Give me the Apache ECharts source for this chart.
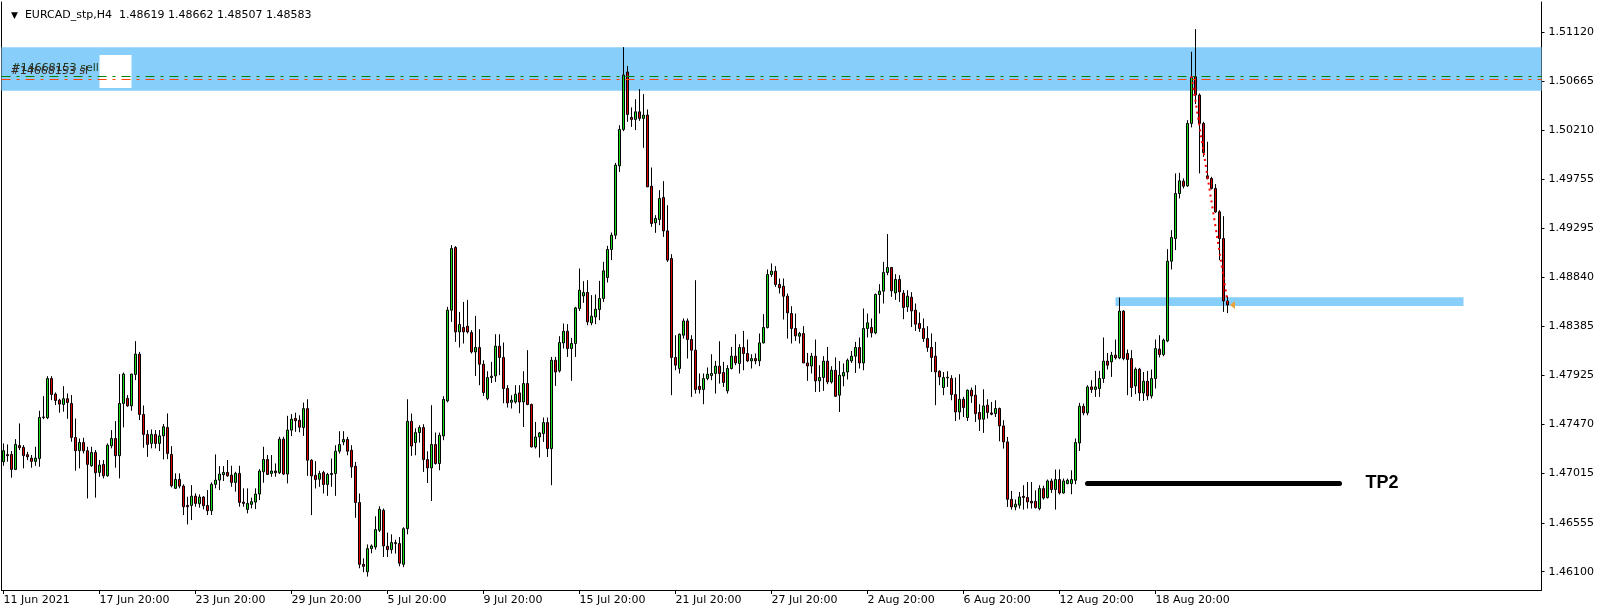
<!DOCTYPE html>
<html><head><meta charset="utf-8">
<script src="https://cdn.jsdelivr.net/npm/echarts@6/dist/echarts.min.js"></script>
<style>html,body{margin:0;padding:0;background:#fff;}#c{width:1604px;height:614px;}</style>
</head><body><div id="c"></div>
<script>
// ---------------- DATA ----------------
const symbolName = 'EURCAD_stp,H4';
const xTickLabels = ['11 Jun 2021','17 Jun 20:00','23 Jun 20:00','29 Jun 20:00','5 Jul 20:00','9 Jul 20:00','15 Jul 20:00','21 Jul 20:00','27 Jul 20:00','2 Aug 20:00','6 Aug 20:00','12 Aug 20:00','18 Aug 20:00'];
const barsPerLabel = 24;
const yTickValues = [1.46100,1.46555,1.47015,1.47470,1.47925,1.48385,1.48840,1.49295,1.49755,1.50210,1.50665,1.51120];

const open = [
1.47124,1.47190,1.47192,1.47052,1.47275,1.47257,1.47189,1.47157,1.47127,1.47154,
1.47536,1.47533,1.47898,1.47753,1.47697,1.47657,1.47710,1.47666,1.47350,1.47226,
1.47303,1.47226,1.47086,1.47210,1.47024,1.47099,1.46993,1.47272,1.47340,1.47180,
1.47666,1.47713,1.47644,1.47936,1.48125,1.47564,1.47378,1.47294,1.47378,1.47294,
1.47365,1.47443,1.47192,1.46876,1.46959,1.46897,1.46717,1.46717,1.46804,1.46733,
1.46795,1.46717,1.46668,1.46913,1.46953,1.47003,1.47024,1.46999,1.46931,1.47015,
1.46748,1.46680,1.46727,1.46748,1.46823,1.47030,1.47145,1.47015,1.47037,1.47021,
1.47334,1.47009,1.47418,1.47526,1.47510,1.47442,1.47618,1.47138,1.46998,1.46961,
1.47023,1.46912,1.47005,1.47014,1.47222,1.47308,1.47330,1.47231,1.47082,1.46744,
1.46169,1.46099,1.46315,1.46330,1.46486,1.46672,1.46337,1.46306,1.46362,1.46362,
1.46169,1.46501,1.47500,1.47302,1.47395,1.47442,1.47144,1.47066,1.47284,1.47107,
1.47364,1.47690,1.48534,1.49118,1.48332,1.48373,1.48385,1.48326,1.48146,1.48187,
1.48031,1.47712,1.47907,1.47922,1.48199,1.48094,1.47805,1.47677,1.47680,1.47764,
1.47680,1.47851,1.47656,1.47261,1.47354,1.47386,1.47488,1.47246,1.48068,1.47969,
1.48229,1.48338,1.48177,1.48224,1.48550,1.48667,1.48699,1.48416,1.48471,1.48540,
1.48643,1.48838,1.49099,1.49232,1.49877,1.50216,1.50750,1.50328,1.50309,1.50380,
1.50319,1.50350,1.49688,1.49347,1.49378,1.49583,1.49272,1.49015,1.48094,1.47991,
1.48301,1.48434,1.48261,1.48162,1.47826,1.47796,1.47898,1.47926,1.47945,1.48013,
1.47954,1.47783,1.47991,1.48106,1.48038,1.48187,1.48131,1.48062,1.48084,1.48062,
1.48230,1.48373,1.48866,1.48897,1.48773,1.48757,1.48664,1.48503,1.48364,1.48292,
1.48317,1.48043,1.48015,1.48106,1.47876,1.47907,1.48060,1.47866,1.47975,1.47743,
1.47922,1.47959,1.48062,1.48106,1.48187,1.48043,1.48364,1.48373,1.48323,1.48680,
1.48711,1.48885,1.48931,1.48695,1.48820,1.48692,1.48565,1.48655,1.48534,1.48410,
1.48364,1.48270,1.48187,1.48106,1.47966,1.47814,1.47904,1.47898,1.47749,1.47587,
1.47705,1.47535,1.47789,1.47743,1.47582,1.47519,1.47650,1.47578,1.47572,1.47619,
1.47457,1.47308,1.46774,1.46703,1.46719,1.46802,1.46791,1.46756,1.46756,1.46688,
1.46874,1.46790,1.46945,1.46865,1.46958,1.46833,1.46920,1.46920,1.46951,1.47298,
1.47640,1.47578,1.47820,1.47796,1.47805,1.47898,1.48060,1.48053,1.48115,1.48090,
1.48525,1.48131,1.48084,1.47829,1.47985,1.47764,1.47873,1.47736,1.47898,1.48171,
1.48121,1.48248,1.48990,1.49201,1.49620,1.49735,1.49691,1.50272,1.50706,1.50536,
1.50272,1.49784,1.49760,1.49667,1.49449,1.49201,1.48619];

const high = [
1.47294,1.47285,1.47223,1.47334,1.47480,1.47278,1.47216,1.47186,1.47263,1.47598,
1.47734,1.47920,1.47920,1.47768,1.47710,1.47827,1.47759,1.47744,1.47526,1.47340,
1.47347,1.47263,1.47263,1.47232,1.47139,1.47139,1.47294,1.47418,1.47502,1.47939,
1.47954,1.47744,1.47942,1.48246,1.48146,1.47647,1.47418,1.47424,1.47418,1.47418,
1.47474,1.47573,1.47269,1.47015,1.47015,1.46913,1.46798,1.46906,1.46829,1.46820,
1.46804,1.46860,1.46931,1.47192,1.47083,1.47083,1.47139,1.47086,1.47030,1.47086,
1.46876,1.46876,1.46789,1.46876,1.47055,1.47263,1.47186,1.47186,1.47108,1.47356,
1.47356,1.47551,1.47567,1.47580,1.47556,1.47674,1.47705,1.47147,1.47129,1.47039,
1.47039,1.47020,1.47154,1.47277,1.47408,1.47408,1.47355,1.47277,1.47122,1.46828,
1.46224,1.46354,1.46354,1.46616,1.46709,1.46688,1.46464,1.46448,1.46399,1.46423,
1.46514,1.47705,1.47572,1.47435,1.47463,1.47473,1.47221,1.47650,1.47395,1.47395,
1.47733,1.48565,1.49139,1.49130,1.48518,1.48611,1.48630,1.48348,1.48481,1.48357,
1.48068,1.47966,1.48053,1.48310,1.48310,1.48233,1.47836,1.47743,1.47836,1.47836,
1.47966,1.48162,1.47665,1.47494,1.47401,1.47535,1.47535,1.48099,1.48099,1.48292,
1.48410,1.48404,1.48276,1.48565,1.48922,1.48804,1.48813,1.48674,1.48680,1.48807,
1.48984,1.49133,1.49257,1.49905,1.50256,1.50982,1.50806,1.50421,1.50498,1.50591,
1.50545,1.50402,1.49862,1.49418,1.49651,1.49735,1.49511,1.49055,1.48301,1.48317,
1.48457,1.48457,1.48301,1.48813,1.47945,1.47945,1.48001,1.48124,1.48062,1.48245,
1.48053,1.48022,1.48192,1.48310,1.48217,1.48341,1.48261,1.48124,1.48131,1.48317,
1.48497,1.48913,1.48969,1.48944,1.48829,1.48829,1.48689,1.48571,1.48503,1.48332,
1.48385,1.48136,1.48136,1.48261,1.48022,1.48106,1.48192,1.48013,1.48094,1.48060,
1.48038,1.48084,1.48155,1.48239,1.48280,1.48550,1.48503,1.48457,1.48689,1.48776,
1.48984,1.49242,1.48937,1.48869,1.48860,1.48720,1.48720,1.48702,1.48596,1.48513,
1.48457,1.48385,1.48317,1.48239,1.47975,1.47959,1.47966,1.47929,1.47907,1.47938,
1.47727,1.47796,1.47814,1.47836,1.47659,1.47798,1.47705,1.47680,1.47696,1.47628,
1.47510,1.47354,1.46852,1.46772,1.46842,1.46905,1.46935,1.46935,1.46858,1.46905,
1.46900,1.46958,1.46967,1.47051,1.47051,1.46967,1.46967,1.47044,1.47340,1.47671,
1.47665,1.47836,1.47882,1.47969,1.47969,1.48280,1.48136,1.48146,1.48261,1.48652,
1.48534,1.48168,1.48162,1.48001,1.47997,1.47959,1.47969,1.47982,1.48261,1.48301,
1.48270,1.49102,1.49279,1.49807,1.49812,1.49760,1.50303,1.50939,1.51150,1.50551,
1.50287,1.50101,1.49775,1.49707,1.49465,1.49409,1.48662];

const low = [
1.47086,1.47124,1.46975,1.47046,1.47232,1.47062,1.47139,1.47068,1.47086,1.47077,
1.47520,1.47520,1.47697,1.47651,1.47580,1.47589,1.47523,1.47310,1.47040,1.47062,
1.47201,1.46782,1.47077,1.46789,1.46984,1.46969,1.46984,1.47248,1.47068,1.46969,
1.47443,1.47635,1.47598,1.47883,1.47511,1.47254,1.47169,1.47248,1.47248,1.47223,
1.47145,1.47148,1.46885,1.46870,1.46876,1.46628,1.46540,1.46581,1.46705,1.46696,
1.46680,1.46628,1.46628,1.46876,1.46860,1.46944,1.46984,1.46891,1.46845,1.46705,
1.46705,1.46643,1.46690,1.46683,1.46767,1.46928,1.47000,1.46984,1.46984,1.47009,
1.47000,1.46922,1.47362,1.47402,1.47398,1.47364,1.46992,1.46627,1.46875,1.46890,
1.46828,1.46806,1.46890,1.46806,1.47200,1.47277,1.47184,1.46974,1.46602,1.46132,
1.46095,1.46055,1.46272,1.46306,1.46470,1.46237,1.46237,1.46269,1.46269,1.46151,
1.46142,1.46448,1.47178,1.47184,1.47302,1.47029,1.46926,1.46758,1.47097,1.47044,
1.47324,1.47677,1.48425,1.48239,1.48187,1.48224,1.48317,1.48131,1.47922,1.47836,
1.47736,1.47696,1.47857,1.47866,1.47929,1.47668,1.47628,1.47619,1.47665,1.47575,
1.47447,1.47650,1.47258,1.47246,1.47163,1.47308,1.47168,1.46905,1.47829,1.47954,
1.48177,1.48099,1.47876,1.48099,1.48527,1.48602,1.48394,1.48394,1.48404,1.48441,
1.48611,1.48792,1.49000,1.49195,1.49821,1.50200,1.50287,1.50240,1.50210,1.50296,
1.50045,1.49679,1.49309,1.49254,1.49325,1.49216,1.48984,1.47743,1.47975,1.47945,
1.48270,1.48084,1.47727,1.47758,1.47758,1.47659,1.47882,1.47882,1.47758,1.47851,
1.47820,1.47758,1.47982,1.48022,1.47945,1.47975,1.48053,1.47991,1.48031,1.48013,
1.48224,1.48364,1.48844,1.48751,1.48689,1.48447,1.48270,1.48224,1.48248,1.48224,
1.48043,1.47876,1.47945,1.47773,1.47773,1.47783,1.47845,1.47851,1.47727,1.47587,
1.47826,1.47889,1.48043,1.47950,1.47991,1.47975,1.48280,1.48280,1.48310,1.48503,
1.48596,1.48860,1.48658,1.48630,1.48611,1.48450,1.48518,1.48378,1.48341,1.48332,
1.48239,1.48146,1.47959,1.47650,1.47836,1.47743,1.47820,1.47696,1.47503,1.47516,
1.47540,1.47503,1.47671,1.47494,1.47410,1.47392,1.47526,1.47556,1.47540,1.47314,
1.47246,1.46703,1.46678,1.46672,1.46688,1.46678,1.46688,1.46688,1.46688,1.46672,
1.46771,1.46781,1.46833,1.46678,1.46818,1.46827,1.46914,1.46821,1.46914,1.47224,
1.47556,1.47556,1.47764,1.47727,1.47727,1.47857,1.47982,1.47913,1.48075,1.48078,
1.48068,1.47743,1.47727,1.47752,1.47690,1.47690,1.47696,1.47712,1.47805,1.48094,
1.48106,1.48236,1.48913,1.49093,1.49574,1.49667,1.49682,1.50235,1.50452,1.49807,
1.49961,1.49751,1.49658,1.49440,1.49000,1.48518,1.48507];

const close = [
1.47226,1.47180,1.47052,1.47285,1.47254,1.47180,1.47169,1.47127,1.47157,1.47536,
1.47540,1.47898,1.47750,1.47694,1.47660,1.47710,1.47675,1.47350,1.47226,1.47303,
1.47226,1.47099,1.47210,1.47021,1.47093,1.46993,1.47278,1.47340,1.47180,1.47666,
1.47939,1.47644,1.47939,1.48125,1.47564,1.47378,1.47285,1.47378,1.47294,1.47365,
1.47449,1.47201,1.46900,1.46959,1.46897,1.46705,1.46705,1.46804,1.46736,1.46795,
1.46714,1.46668,1.46913,1.46953,1.47009,1.47024,1.46993,1.46931,1.47015,1.46745,
1.46736,1.46736,1.46752,1.46823,1.47037,1.47145,1.47006,1.47037,1.47021,1.47334,
1.47009,1.47418,1.47520,1.47505,1.47445,1.47618,1.47138,1.46992,1.46958,1.47014,
1.46912,1.47005,1.47014,1.47222,1.47284,1.47330,1.47222,1.47076,1.46744,1.46169,
1.46150,1.46315,1.46340,1.46492,1.46681,1.46340,1.46306,1.46371,1.46371,1.46179,
1.46501,1.47500,1.47270,1.47395,1.47442,1.47144,1.47066,1.47284,1.47107,1.47370,
1.47703,1.48534,1.49108,1.48332,1.48401,1.48332,1.48332,1.48146,1.48187,1.48031,
1.47768,1.47907,1.47920,1.48199,1.48094,1.47805,1.47671,1.47696,1.47752,1.47680,
1.47851,1.47656,1.47261,1.47354,1.47392,1.47488,1.47246,1.48068,1.47959,1.48233,
1.48338,1.48177,1.48224,1.48555,1.48720,1.48699,1.48425,1.48478,1.48543,1.48643,
1.48900,1.49099,1.49232,1.49884,1.50216,1.50722,1.50356,1.50309,1.50380,1.50319,
1.50350,1.49682,1.49341,1.49388,1.49574,1.49272,1.49000,1.48094,1.48022,1.48310,
1.48434,1.48261,1.48162,1.47796,1.47796,1.47898,1.47938,1.47945,1.48013,1.47945,
1.47861,1.47991,1.48106,1.48043,1.48187,1.48131,1.48062,1.48084,1.48062,1.48230,
1.48373,1.48866,1.48897,1.48773,1.48742,1.48664,1.48509,1.48364,1.48295,1.48317,
1.48043,1.48015,1.48106,1.47876,1.47907,1.48060,1.47866,1.47975,1.47733,1.47929,
1.47954,1.48068,1.48106,1.48187,1.48043,1.48364,1.48416,1.48323,1.48680,1.48711,
1.48885,1.48931,1.48714,1.48820,1.48704,1.48559,1.48664,1.48527,1.48404,1.48364,
1.48270,1.48187,1.48094,1.47959,1.47913,1.47907,1.47910,1.47749,1.47587,1.47705,
1.47628,1.47789,1.47736,1.47572,1.47519,1.47643,1.47582,1.47566,1.47619,1.47457,
1.47308,1.46774,1.46703,1.46728,1.46796,1.46791,1.46750,1.46740,1.46697,1.46874,
1.46786,1.46945,1.46865,1.46958,1.46833,1.46945,1.46951,1.46958,1.47302,1.47640,
1.47578,1.47820,1.47796,1.47820,1.47898,1.48060,1.48022,1.48115,1.48090,1.48525,
1.48084,1.48075,1.47814,1.47985,1.47764,1.47873,1.47736,1.47898,1.48177,1.48121,
1.48255,1.48990,1.49211,1.49620,1.49738,1.49688,1.50272,1.50700,1.50536,1.50272,
1.50002,1.49760,1.49667,1.49449,1.49201,1.48620,1.48583];

// annotation objects (prices and bar indices)
const upperZone = [1.50980, 1.50576];
const lowerZone = [1.48655, 1.48574];
const lowerZoneBars = [278, 365];
const orderTicket = '#14668153';
const sellPrice = 1.50715;
const slPrice = 1.50687;
const hiddenBoxBars = [24, 32];
const hiddenBoxPrices = [1.50908, 1.50601];
const tradeLineBars = [297, 306];
const tradeLinePrices = [1.50713, 1.48610];
const tp2Price = 1.46923;
const tp2Bars = [271, 334];
const tp2Label = 'TP2';
const totalSlots = 385; // bars + empty right shift area

// ---------------- CHART ----------------
const N = open.length;
const last = N - 1;
const cats = Array.from({length: totalSlots}, (_, i) => String(i));
const candles = open.map((o, i) => [o, close[i], low[i], high[i]]);
const showTick = (idx) => idx % barsPerLabel === 0 && idx / barsPerLabel < xTickLabels.length;
const FONT = 'DejaVu Sans';
const yMin = 1.45930, yMax = 1.51402;

const chart = echarts.init(document.getElementById('c'), null, {renderer: 'canvas'});
chart.setOption({
  animation: false,
  backgroundColor: '#ffffff',
  title: {
    text: '{t|▼}  ' + symbolName + '  ' + [open[last], high[last], low[last], close[last]].map(v => v.toFixed(5)).join(' '),
    left: 6, top: 5,
    textStyle: {fontFamily: FONT, fontSize: 11, fontWeight: 'normal', color: '#000',
      rich: {t: {fontSize: 9, fontFamily: FONT, color: '#000'}}}
  },
  grid: {left: 1.5, right: 62.5, top: 2, bottom: 24, containLabel: false},
  xAxis: {
    type: 'category', data: cats, boundaryGap: true,
    axisLine: {show: true, onZero: false, lineStyle: {color: '#000', width: 1}},
    axisTick: {show: true, alignWithLabel: true, interval: showTick, length: 4, lineStyle: {color: '#000'}},
    axisLabel: {interval: showTick, formatter: (v, idx) => xTickLabels[idx / barsPerLabel] || '',
      align: 'left', margin: 5, color: '#000', fontFamily: FONT, fontSize: 11},
    splitLine: {show: false}
  },
  yAxis: [{
    type: 'value', position: 'right', min: yMin, max: yMax, scale: true,
    splitLine: {show: false},
    axisLine: {show: true, onZero: false, lineStyle: {color: '#000', width: 1}},
    axisTick: {show: true, length: 3, customValues: yTickValues, lineStyle: {color: '#000'}},
    axisLabel: {customValues: yTickValues, formatter: v => v.toFixed(5), color: '#000', fontFamily: FONT, fontSize: 11, margin: 7}
  }, {
    type: 'value', position: 'left', min: yMin, max: yMax, scale: true,
    splitLine: {show: false},
    axisLine: {show: true, onZero: false, lineStyle: {color: '#000', width: 1}},
    axisTick: {show: false}, axisLabel: {show: false}
  }],
  series: [
    { // zones
      type: 'line', data: [], z: 1, silent: true,
      markArea: {silent: true, itemStyle: {color: '#87CEFA', opacity: 1},
        data: [
          [{yAxis: upperZone[0]}, {yAxis: upperZone[1]}],
          [{xAxis: lowerZoneBars[0], yAxis: lowerZone[0]}, {xAxis: lowerZoneBars[1], yAxis: lowerZone[1]}]
        ]}
    },
    { // order lines
      type: 'line', data: [], z: 2, silent: true,
      markLine: {silent: true, symbol: 'none', animation: false, precision: 6,
        data: [
          {yAxis: sellPrice, lineStyle: {color: '#008000', width: 1, type: [9, 6, 3, 6]},
           label: {show: true, position: 'insideStartTop', formatter: orderTicket + ' sell', distance: [10, 2],
             color: '#1e3a1e', fontFamily: FONT, fontSize: 11}},
          {yAxis: slPrice, lineStyle: {color: '#FF4500', width: 1, type: [9, 6, 3, 6]},
           label: {show: true, position: 'insideStartTop', formatter: orderTicket + ' sl', distance: [9, 2],
             color: '#3a2a22', fontFamily: FONT, fontSize: 11}},
          [{xAxis: tradeLineBars[0], yAxis: tradeLinePrices[0], lineStyle: {color: '#FF0000', width: 2, type: [2, 4]}, label: {show: false}},
           {xAxis: tradeLineBars[1], yAxis: tradeLinePrices[1]}]
        ]}
    },
    { // hidden object box
      type: 'line', data: [], z: 3, silent: true,
      markArea: {silent: true, itemStyle: {color: '#ffffff', opacity: 1},
        data: [[{xAxis: hiddenBoxBars[0], yAxis: hiddenBoxPrices[0]}, {xAxis: hiddenBoxBars[1], yAxis: hiddenBoxPrices[1]}]]}
    },
    {
      type: 'candlestick', data: candles, z: 4, barWidth: 2,
      itemStyle: {color: '#19DC19', color0: '#DD0000', borderColor: '#000', borderColor0: '#000', borderColorDoji: '#000', borderWidth: 1},
      markLine: {silent: true, symbol: 'none', animation: false, precision: 6,
        data: [
          [{xAxis: tp2Bars[0], yAxis: tp2Price, lineStyle: {color: '#000', width: 5, type: 'solid', cap: 'round'},
            label: {show: true, position: 'end', formatter: tp2Label, distance: 26, color: '#000',
              fontFamily: 'Liberation Sans', fontSize: 18, fontWeight: 'bold'}},
           {xAxis: tp2Bars[1], yAxis: tp2Price}],
          {yAxis: close[last], lineStyle: {opacity: 0},
           label: {show: true, position: 'end', formatter: close[last].toFixed(5), distance: 2,
             backgroundColor: '#000', color: '#fff', padding: [1, 6, 0, 4], fontFamily: FONT, fontSize: 11}}
        ]},
      markPoint: {silent: true, animation: false,
        data: [{coord: [last, close[last]], symbol: 'triangle', symbolSize: [8, 5], symbolRotate: 90, symbolOffset: [5, 0],
          itemStyle: {color: '#E8A33C'}, label: {show: false}}]}
    }
  ]
});
</script>
</body></html>
